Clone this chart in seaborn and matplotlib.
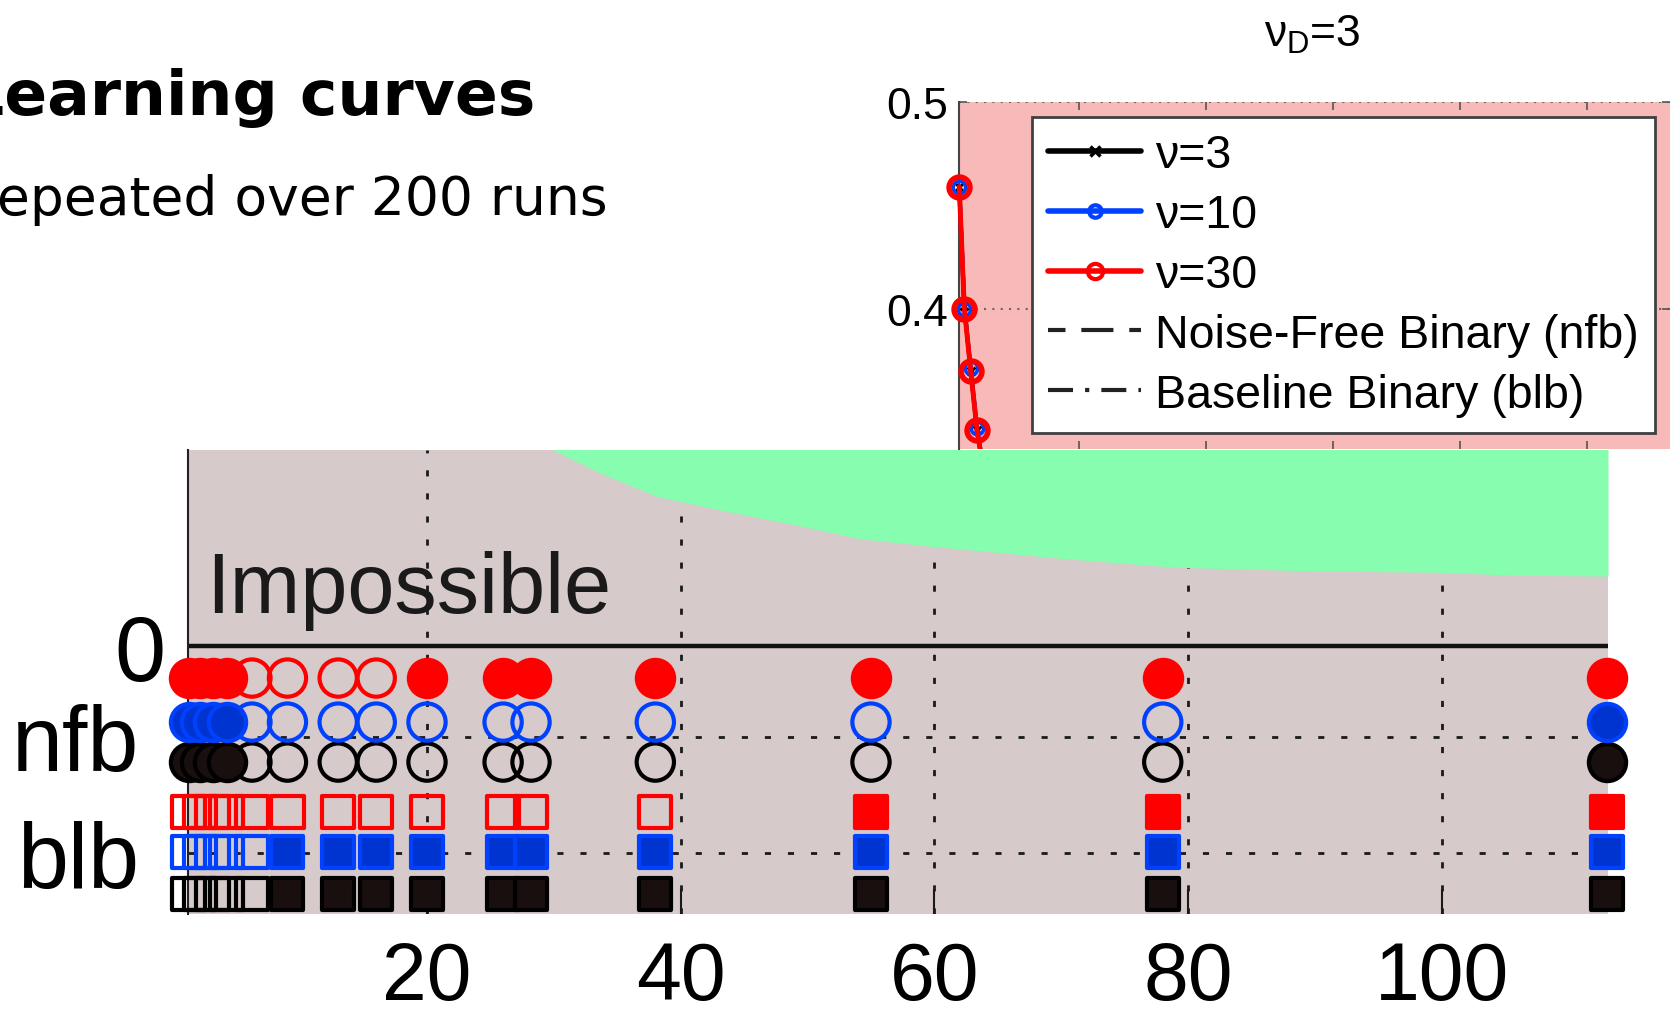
import matplotlib
matplotlib.use("Agg")
import numpy as np
import pandas as pd
import matplotlib.pyplot as plt
from matplotlib.lines import Line2D
from matplotlib.transforms import ScaledTranslation, Bbox, TransformedBbox, blended_transform_factory
import seaborn as sns

# ---------------- data ----------------
# training-set sizes at which the significance markers are shown
sample_sizes = [1.2, 2.1, 3.1, 4.2, 6.2, 9.0, 13.0, 16.0, 20.0, 26.0, 28.2, 38.0, 55.0, 78.0, 113.0]
# 1 = filled marker, 0 = open marker
nfb_nu30 = [1, 1, 1, 1, 0, 0, 0, 0, 1, 1, 1, 1, 1, 1, 1]
nfb_nu10 = [1, 1, 1, 1, 0, 0, 0, 0, 0, 0, 0, 0, 0, 0, 1]
nfb_nu3 = [1, 1, 1, 1, 0, 0, 0, 0, 0, 0, 0, 0, 0, 0, 1]
blb_nu30 = [0, 0, 0, 0, 0, 0, 0, 0, 0, 0, 0, 0, 1, 1, 1]
blb_nu10 = [0, 0, 0, 0, 0, 1, 1, 1, 1, 1, 1, 1, 1, 1, 1]
blb_nu3 = [0, 0, 0, 0, 0, 1, 1, 1, 1, 1, 1, 1, 1, 1, 1]

# lower bound separating the "Impossible" region
bound_x = [28.0, 29.8, 33.4, 38.1, 43.5, 49.4, 54.1, 60.0, 70.0, 78.9, 90.7, 99.5, 105.4, 113.1]
bound_err = [0.215, 0.200, 0.177, 0.152, 0.137, 0.122, 0.109, 0.101, 0.089, 0.080, 0.076, 0.075, 0.072, 0.071]

# learning curves (upper panel, nu_D = 3)
curve_x = [1.2, 2.0, 3.0, 4.0, 6.2]
err_nu3 = [0.459, 0.401, 0.370, 0.341, 0.300]
err_nu10 = [0.459, 0.400, 0.371, 0.342, 0.300]
err_nu30 = [0.459, 0.400, 0.370, 0.341, 0.300]

x_ticks = [20, 40, 60, 80, 100]
y_tick_labels = ["0", "nfb", "blb"]
inset_y_ticks = [0.4, 0.5]
legend_labels = ["ν=3", "ν=10", "ν=30", "Noise-Free Binary (nfb)", "Baseline Binary (blb)"]

# ---------------- style ----------------
W, H = 1675, 1020
sns.set_theme(style="white")
plt.rcParams['font.family'] = ['Liberation Sans', 'DejaVu Sans']
plt.rcParams['mathtext.fontset'] = 'custom'
plt.rcParams['mathtext.rm'] = 'Liberation Sans'
plt.rcParams['mathtext.it'] = 'Liberation Sans'
plt.rcParams['mathtext.bf'] = 'Liberation Sans:bold'
for key in ['text.color', 'axes.labelcolor', 'xtick.color', 'ytick.color']:
    plt.rcParams[key] = 'black'

GREY = '#D6CACA'
GREEN = '#86FDAF'
PINK = '#F8B9B9'
RED = '#FF0000'
BLUE = '#0040FF'
BLUE_FILL = '#0034D0'
BLACK = '#000000'
BLACK_FILL = '#1A0F0F'

# row layout of the significance markers (below zero)
row_pos = {("nfb", 30): -0.0325, ("nfb", 10): -0.0772, ("nfb", 3): -0.1178,
           ("blb", 30): -0.1685, ("blb", 10): -0.2091, ("blb", 3): -0.2518}
y_tick_pos = [0.0, -0.092, -0.2102]

flags = {("nfb", 30): nfb_nu30, ("nfb", 10): nfb_nu10, ("nfb", 3): nfb_nu3,
         ("blb", 30): blb_nu30, ("blb", 10): blb_nu10, ("blb", 3): blb_nu3}
records = []
for (method, nu), fl in flags.items():
    for x, f in zip(sample_sizes, fl):
        records.append(dict(x=x, method=method, nu=nu, filled=f, y=row_pos[(method, nu)]))
df = pd.DataFrame(records)

edge_col = {3: BLACK, 10: BLUE, 30: RED}
fill_col = {3: BLACK_FILL, 10: BLUE_FILL, 30: RED}

fig = plt.figure(figsize=(W / 100, H / 100), dpi=100)
fig.patch.set_facecolor('white')

# ---------------- main (lower) axes ----------------
ax = fig.add_axes([188 / W, 1 - 915 / H, 1420 / W, 464 / H])
ax.set_facecolor(GREY)
ylo, yhi = -0.272, 0.199
ax.set_xlim(1.16, 113.1)
ax.set_ylim(ylo, yhi)
ax.fill_between(bound_x, bound_err, 1.0, color=GREEN, lw=0, zorder=1)
ax.axhline(0, color='#111111', lw=3.2, zorder=2)

z = 3
for method, mk, sz in [("nfb", 'o', 720), ("blb", 's', 540)]:
    for nu in [3, 10, 30]:
        for filled in [0, 1]:
            sub = df[(df.method == method) & (df.nu == nu) & (df.filled == filled)]
            if sub.empty:
                continue
            sns.scatterplot(data=sub, x='x', y='y', marker=mk, s=sz,
                            color=edge_col[nu], edgecolor=edge_col[nu],
                            facecolor=(fill_col[nu] if filled else 'none'),
                            linewidth=3, ax=ax, legend=False, clip_on=False, zorder=z)
        z += 1

ax.set_xlabel('')
ax.set_ylabel('')
ax.set_xticks(x_ticks)
ax.set_xticklabels([str(t) for t in x_ticks])
ax.set_yticks(y_tick_pos)
ax.set_yticklabels(y_tick_labels)
ax.tick_params(axis='x', direction='in', length=18, width=1.5, color='k', pad=18.5,
               labelsize=58, bottom=True, top=False)
ax.tick_params(axis='y', direction='in', length=0, pad=16.5, labelsize=66, left=True)
ax.grid(True, color='k', lw=2, linestyle=(0, (2.2, 6.1)))
for s in ['top', 'right', 'bottom']:
    ax.spines[s].set_visible(False)
ax.spines['left'].set_color('#222222')
ax.spines['left'].set_linewidth(1.5)
for lab in ax.get_yticklabels()[1:]:
    lab.set_transform(lab.get_transform() + ScaledTranslation(-26 / 100, 0, fig.dpi_scale_trans))

ax.text(0.0125, 0.0345, 'Impossible', fontsize=61, va='baseline', ha='left', color='k',
        transform=blended_transform_factory(ax.transAxes, ax.transData), zorder=3)

# ---------------- inset (upper) axes ----------------
axi = fig.add_axes([959 / W, 1 - 450 / H, 711 / W, 347 / H])
axi.set_facecolor(PINK)
axi.set_xlim(1.16, 113.1)
axi.set_ylim(0.332, 0.5)

curves = pd.DataFrame({
    'x': curve_x * 3,
    'err': err_nu3 + err_nu10 + err_nu30,
    'nu': [3] * len(curve_x) + [10] * len(curve_x) + [30] * len(curve_x),
})
style = {3: dict(marker='x', ms=6, mfc=BLACK, mec=BLACK, mew=2, lw=3),
         10: dict(marker='o', ms=9, mfc='none', mec=BLUE, mew=2.5, lw=3),
         30: dict(marker='o', ms=15, mfc='none', mec=RED, mew=4, lw=3.5)}
for i, nu in enumerate([3, 10, 30]):
    sns.lineplot(data=curves[curves.nu == nu], x='x', y='err', color=edge_col[nu],
                 errorbar=None, ax=axi, legend=False, zorder=3 + i, **style[nu])
clipbox = TransformedBbox(Bbox([[-0.05, 0.0], [1.0, 1.1]]), axi.transAxes)
for ln in axi.lines:
    ln.set_clip_box(clipbox)

axi.set_xlabel('')
axi.set_ylabel('')
axi.set_xticks(x_ticks)
axi.set_xticklabels([])
axi.set_yticks(inset_y_ticks)
axi.set_yticklabels([f'{v:.1f}' for v in inset_y_ticks])
axi.tick_params(axis='x', direction='in', top=True, bottom=True, length=6, width=1.2, color='#555555')
axi.tick_params(axis='y', direction='in', left=True, right=True, length=6, width=1.2,
                color='#555555', labelsize=32, pad=8)
axi.grid(axis='y', color='#666666', lw=1.5, linestyle=(0, (1, 3)))
axi.grid(axis='x', visible=False)
for s in ['top', 'right', 'bottom']:
    axi.spines[s].set_visible(False)
axi.spines['left'].set_color('#444444')
axi.spines['left'].set_linewidth(1.5)

handles = [
    Line2D([], [], color=BLACK, lw=4, marker='x', ms=7, mew=2.5),
    Line2D([], [], color=BLUE, lw=4, marker='o', ms=9, mfc='none', mew=3),
    Line2D([], [], color=RED, lw=4, marker='o', ms=11, mfc='none', mew=3),
    Line2D([], [], color='#222222', lw=3, linestyle=(3.5, (7.7, 3.8))),
    Line2D([], [], color='#222222', lw=3, linestyle=(0, (6, 2.9, 1, 2.9))),
]
leg = axi.legend(handles, legend_labels, loc='upper left',
                 bbox_to_anchor=(1032 / W, 1 - 118 / H), bbox_transform=fig.transFigure,
                 borderaxespad=0, fontsize=33.5, handlelength=2.0, handletextpad=0.3,
                 borderpad=0.35, labelspacing=0.34, frameon=True, fancybox=False,
                 framealpha=1, edgecolor='#404040', facecolor='white')
leg.get_frame().set_linewidth(2)
leg.set_zorder(10)

fig.text(1312 / W, 1 - 47 / H, r'$\nu_{D}$=3', fontsize=32, ha='center', va='baseline')

# ---------------- slide text ----------------
fig.text(-36 / W, 1 - 115 / H, 'Learning curves', fontsize=45.5, fontweight='bold',
         family='DejaVu Sans', va='baseline', ha='left')
fig.text(-38 / W, 1 - 215 / H, 'Repeated over 200 runs', fontsize=38.5,
         family='DejaVu Sans', va='baseline', ha='left')

fig.savefig('out.png', dpi=100)
